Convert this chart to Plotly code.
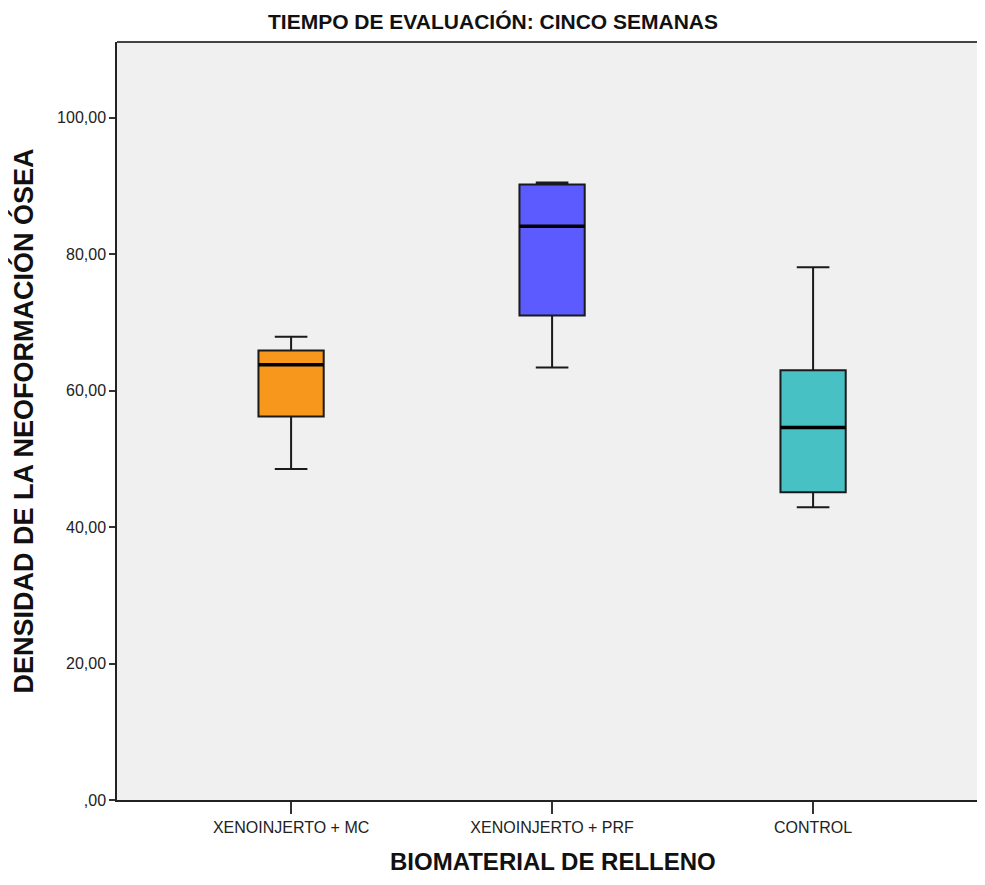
import plotly.graph_objects as go

categories = ["XENOINJERTO + MC", "XENOINJERTO + PRF", "CONTROL"]
lower_whisker = [48.5, 63.4, 42.9]
q1 = [56.2, 71.0, 45.1]
median = [63.8, 84.1, 54.6]
q3 = [65.9, 90.2, 63.0]
upper_whisker = [67.9, 90.5, 78.1]
colors = ["#F7981D", "#5B5BFF", "#47C1C4"]
y_ticks = [0, 20, 40, 60, 80, 100]
y_tick_labels = [",00", "20,00", "40,00", "60,00", "80,00", "100,00"]

box_w = 0.25
fig = go.Figure()
for i, cat in enumerate(categories):
    fig.add_trace(go.Box(
        x=[i], q1=[q1[i]], median=[median[i]], q3=[q3[i]],
        lowerfence=[lower_whisker[i]], upperfence=[upper_whisker[i]],
        fillcolor=colors[i], line=dict(color="#1a1a1a", width=2),
        width=box_w, whiskerwidth=0.5, boxpoints=False, name=cat,
        showlegend=False, hoverinfo="skip"))
    fig.add_trace(go.Scatter(
        x=[i - box_w / 2, i + box_w / 2], y=[median[i], median[i]],
        mode="lines", line=dict(color="#000000", width=3.4),
        showlegend=False, hoverinfo="skip"))

W, H = 969, 869
tick_font = dict(size=16, family="Liberation Sans Narrow, Arial Narrow, Liberation Sans, Arial", color="#222222")
fig.update_layout(
    width=W, height=H,
    margin=dict(l=109, r=0, t=34, b=77),
    paper_bgcolor="white", plot_bgcolor="#F0F0F0",
    font=dict(family="Liberation Sans, Arial", color="#222222"),
    title=dict(text="<b>TIEMPO DE EVALUACIÓN: CINCO SEMANAS</b>", x=(493 - 8) / W, xanchor="center",
               y=1 - 14 / H, yanchor="middle",
               font=dict(size=21, family="Liberation Sans Narrow, Arial Narrow, Liberation Sans", color="#111111")),
    xaxis=dict(range=[-0.667, 2.628], tickmode="array", tickvals=[0, 1, 2], ticktext=categories,
               showgrid=False, zeroline=False, showline=True, linecolor="#222222", linewidth=1.5,
               ticks="outside", ticklen=12, tickwidth=1.5, tickcolor="#333333",
               tickfont=tick_font, automargin=False),
    yaxis=dict(range=[0, 111.1], tickmode="array", tickvals=y_ticks, ticktext=y_tick_labels,
               showgrid=False, zeroline=False, showline=True, linecolor="#222222", linewidth=1.5,
               ticks="outside", ticklen=6, tickwidth=1.5, tickcolor="#333333",
               tickfont=tick_font, automargin=False,
               title=dict(text="<b>DENSIDAD DE LA NEOFORMACIÓN ÓSEA</b>", standoff=16,
                          font=dict(size=27, family="Liberation Sans, Arial", color="#111111"))),
    annotations=[dict(text="<b>BIOMATERIAL DE RELLENO</b>", xref="paper", yref="paper",
                      x=(553 - 8 - 109) / (W - 109), y=-61 / 758, xanchor="center", yanchor="middle",
                      showarrow=False,
                      font=dict(size=24, family="Liberation Sans, Arial", color="#111111"))],
)
# top border
fig.add_shape(type="line", xref="paper", yref="paper", x0=0, x1=1, y0=1, y1=1,
              line=dict(color="#444444", width=2))

fig.write_html("out.html")
